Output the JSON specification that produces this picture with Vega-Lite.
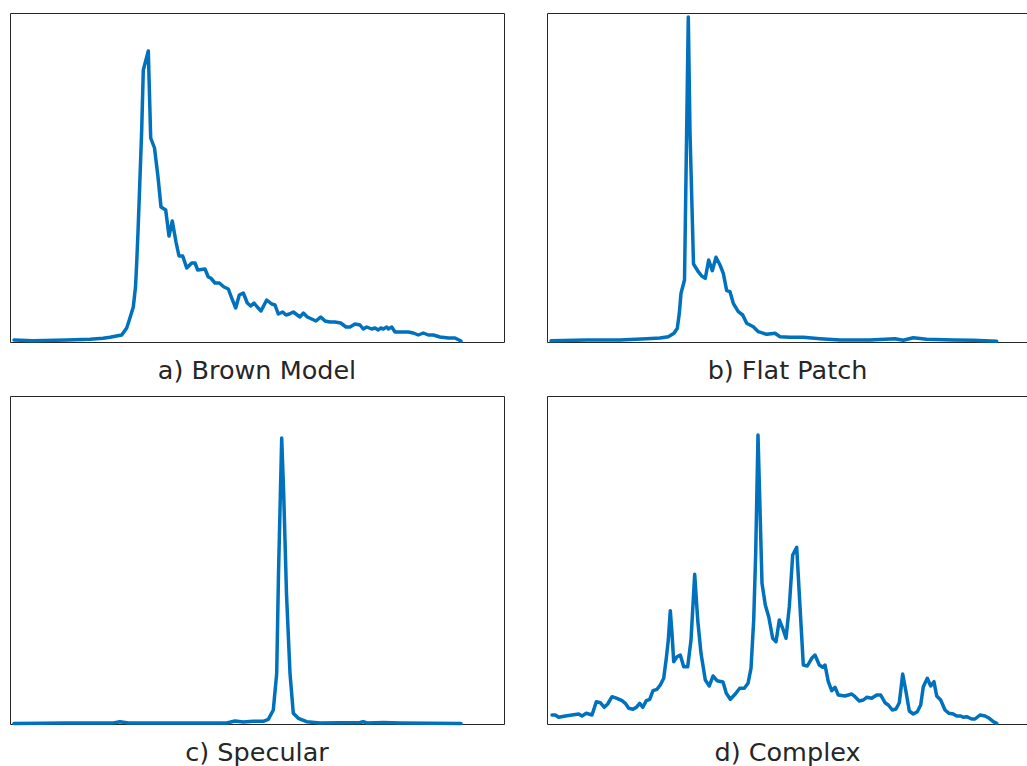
{
  "$schema": "https://vega.github.io/schema/vega-lite/v6.json",
  "background": "white",
  "padding": {"left": 9, "top": 12, "right": 0, "bottom": 0},
  "columns": 2,
  "spacing": {"row": 54, "column": 43},
  "bounds": "flush",
  "datasets": {
    "brown": [
      {"x":4,"y":2},{"x":23,"y":1.3},{"x":57,"y":2},{"x":80,"y":2.7},{"x":93,"y":3.7},{"x":100,"y":4.7},{"x":111.7,"y":7},{"x":116.7,"y":14},{"x":119.3,"y":22},{"x":123.3,"y":35},{"x":125.5,"y":55},{"x":126.7,"y":79},{"x":128,"y":110},{"x":129.3,"y":145},{"x":131.7,"y":212},{"x":133.3,"y":272},{"x":138.3,"y":291},{"x":140.7,"y":204},{"x":144.5,"y":194},{"x":148,"y":165},{"x":151,"y":135},{"x":155.7,"y":132},{"x":159,"y":106},{"x":162.3,"y":121},{"x":166,"y":100},{"x":169,"y":86},{"x":172.7,"y":86},{"x":176.7,"y":74},{"x":181.7,"y":79},{"x":185,"y":79},{"x":187.7,"y":72},{"x":195,"y":73},{"x":198.3,"y":65},{"x":200.7,"y":64},{"x":205,"y":59},{"x":209.3,"y":59},{"x":214,"y":55},{"x":218.3,"y":53},{"x":221.7,"y":44},{"x":225.7,"y":34},{"x":229.3,"y":47},{"x":233.3,"y":49},{"x":237.3,"y":39},{"x":240.7,"y":36},{"x":244,"y":39},{"x":247.3,"y":35},{"x":251,"y":31},{"x":256.7,"y":42},{"x":261.7,"y":38},{"x":265,"y":37},{"x":268.3,"y":28},{"x":272.7,"y":30},{"x":276,"y":27},{"x":279.3,"y":28},{"x":283.3,"y":30},{"x":287.3,"y":27},{"x":290,"y":25},{"x":293.3,"y":29},{"x":297.3,"y":25},{"x":301.7,"y":23},{"x":306,"y":21},{"x":310.7,"y":25},{"x":315,"y":21},{"x":320,"y":20},{"x":325,"y":20},{"x":330.7,"y":19},{"x":336,"y":15},{"x":340,"y":15},{"x":345,"y":18},{"x":350,"y":17},{"x":353.3,"y":13},{"x":356.7,"y":15},{"x":361.7,"y":13},{"x":365,"y":14},{"x":368.3,"y":12},{"x":370.7,"y":14},{"x":373.3,"y":13},{"x":376.7,"y":15},{"x":378.3,"y":13},{"x":381.7,"y":15},{"x":385,"y":10},{"x":390,"y":10},{"x":398.3,"y":10},{"x":403.3,"y":9},{"x":408.3,"y":7},{"x":413.3,"y":9},{"x":418.3,"y":7},{"x":423.3,"y":7},{"x":430,"y":5},{"x":438.3,"y":4},{"x":445,"y":4},{"x":451,"y":1}
    ],
    "flat": [
      {"x":4,"y":1.3},{"x":39.7,"y":2},{"x":73,"y":2},{"x":99.7,"y":3.3},{"x":113,"y":4},{"x":121.3,"y":5.3},{"x":127,"y":8.7},{"x":130.3,"y":13.7},{"x":132.3,"y":28.7},{"x":134,"y":48.7},{"x":137.5,"y":62},{"x":141.3,"y":325},{"x":143,"y":210},{"x":146.5,"y":78},{"x":151.3,"y":70.3},{"x":154.7,"y":66},{"x":158.3,"y":63.7},{"x":161.7,"y":82},{"x":165.3,"y":71.3},{"x":169,"y":84.7},{"x":173,"y":77},{"x":176.3,"y":68.7},{"x":179.7,"y":51.3},{"x":183,"y":50.3},{"x":186.3,"y":38.7},{"x":191.3,"y":30.3},{"x":195.7,"y":27},{"x":199.7,"y":18.7},{"x":206.3,"y":15.3},{"x":211.3,"y":10.3},{"x":219.7,"y":7.7},{"x":228,"y":8.7},{"x":233,"y":5.3},{"x":243,"y":4.7},{"x":256.3,"y":4.7},{"x":273,"y":3.3},{"x":293,"y":2},{"x":323,"y":2},{"x":348,"y":3.3},{"x":356.3,"y":1.7},{"x":366.3,"y":4.3},{"x":379.7,"y":2.7},{"x":406.3,"y":2},{"x":426.3,"y":1.7},{"x":449.7,"y":0.7}
    ],
    "specular": [
      {"x":4,"y":0.5},{"x":56.7,"y":1},{"x":103.3,"y":1},{"x":110,"y":2.3},{"x":118.3,"y":1},{"x":156.7,"y":1},{"x":216.7,"y":1},{"x":225,"y":3},{"x":233.3,"y":2},{"x":243.3,"y":2.7},{"x":253.3,"y":2.7},{"x":258.3,"y":4.7},{"x":263.3,"y":14},{"x":266.7,"y":50.7},{"x":268.5,"y":150},{"x":271.7,"y":286},{"x":273.7,"y":230},{"x":276.5,"y":130},{"x":280,"y":50.7},{"x":283.3,"y":10.7},{"x":288.3,"y":5.7},{"x":296.7,"y":2.3},{"x":310,"y":1},{"x":350,"y":1.5},{"x":353.3,"y":2.3},{"x":356.7,"y":1},{"x":373.3,"y":1.5},{"x":390,"y":1},{"x":451,"y":0.5}
    ],
    "complex": [
      {"x":5,"y":9},{"x":8.3,"y":9},{"x":11.7,"y":6.7},{"x":18.3,"y":8},{"x":25,"y":9},{"x":31.7,"y":10},{"x":35,"y":8},{"x":39.3,"y":10.7},{"x":45,"y":9},{"x":49.3,"y":22.3},{"x":53.3,"y":21.3},{"x":57.3,"y":16.7},{"x":60.7,"y":20},{"x":65,"y":27.3},{"x":70,"y":25.7},{"x":75,"y":23.3},{"x":78.3,"y":20.7},{"x":81.7,"y":15.7},{"x":86,"y":14.7},{"x":89.3,"y":16.7},{"x":92.7,"y":20.7},{"x":95.7,"y":16.7},{"x":99.3,"y":23.3},{"x":102.7,"y":24.7},{"x":106,"y":33.3},{"x":110,"y":34.7},{"x":113.3,"y":39},{"x":116.7,"y":45.7},{"x":119.3,"y":65.7},{"x":121.3,"y":84},{"x":123.3,"y":113.3},{"x":125,"y":90.7},{"x":126.7,"y":62.3},{"x":130,"y":67.3},{"x":133.3,"y":69},{"x":136.7,"y":57.3},{"x":140.7,"y":57.3},{"x":144,"y":84},{"x":147.7,"y":149.7},{"x":150.7,"y":104},{"x":154,"y":70.7},{"x":158.3,"y":44},{"x":162.3,"y":38},{"x":166,"y":48},{"x":170,"y":43.3},{"x":176,"y":42},{"x":179.3,"y":30.7},{"x":183.3,"y":24.7},{"x":188.3,"y":30},{"x":192.7,"y":35.7},{"x":197.3,"y":35.7},{"x":201,"y":40.7},{"x":204,"y":55.7},{"x":206.7,"y":104},{"x":208.7,"y":170.7},{"x":211,"y":289},{"x":213.3,"y":204},{"x":215,"y":140.7},{"x":218.3,"y":119},{"x":221.7,"y":107.3},{"x":225.7,"y":85.7},{"x":229,"y":82.3},{"x":232.3,"y":104},{"x":235.7,"y":95.7},{"x":239,"y":85.7},{"x":242.3,"y":117.3},{"x":245.7,"y":169},{"x":249.7,"y":176.7},{"x":253,"y":117.3},{"x":256.3,"y":59},{"x":260.3,"y":58},{"x":264.7,"y":65.7},{"x":268,"y":69},{"x":272.3,"y":59},{"x":275.7,"y":56.7},{"x":278,"y":59},{"x":281.3,"y":42.3},{"x":284.7,"y":33.3},{"x":288,"y":36.7},{"x":291.3,"y":29},{"x":298,"y":28},{"x":304.7,"y":30},{"x":308,"y":27.3},{"x":312.3,"y":23},{"x":316.3,"y":24},{"x":319.7,"y":26.7},{"x":324.7,"y":25.7},{"x":329.7,"y":29},{"x":333.7,"y":29},{"x":338,"y":21.3},{"x":341.3,"y":19},{"x":345.3,"y":14},{"x":349,"y":15},{"x":352.3,"y":21.3},{"x":355.7,"y":50},{"x":359,"y":32.3},{"x":362.3,"y":13},{"x":366.3,"y":10},{"x":370.3,"y":12.3},{"x":373.7,"y":19},{"x":376.3,"y":37.3},{"x":380.3,"y":45.7},{"x":383.7,"y":38},{"x":387,"y":42.3},{"x":389.7,"y":28},{"x":393.7,"y":24},{"x":398,"y":14},{"x":402,"y":10.7},{"x":406.3,"y":10},{"x":409.7,"y":8},{"x":413.7,"y":8},{"x":416.3,"y":6.7},{"x":419.7,"y":7.3},{"x":424.7,"y":5},{"x":428,"y":5},{"x":433,"y":9},{"x":438,"y":8},{"x":442.3,"y":5.7},{"x":446.3,"y":2.3},{"x":449.7,"y":0.7}
    ]
  },
  "concat": [
    {
      "width": 494, "height": 329,
      "title": "a) Brown Model",
      "data": {"name": "brown"},
      "mark": {"type": "line", "color": "#0072BD", "strokeWidth": 3.5, "strokeJoin": "round", "strokeCap": "round"},
      "encoding": {
        "x": {"field": "x", "type": "quantitative", "scale": {"domain": [0, 494], "nice": false, "zero": false}, "axis": null},
        "y": {"field": "y", "type": "quantitative", "scale": {"domain": [0, 329], "nice": false}, "axis": null}
      }
    },
    {
      "width": 481, "height": 329,
      "title": "b) Flat Patch",
      "data": {"name": "flat"},
      "mark": {"type": "line", "color": "#0072BD", "strokeWidth": 3.5, "strokeJoin": "round", "strokeCap": "round"},
      "encoding": {
        "x": {"field": "x", "type": "quantitative", "scale": {"domain": [0, 481], "nice": false, "zero": false}, "axis": null},
        "y": {"field": "y", "type": "quantitative", "scale": {"domain": [0, 329], "nice": false}, "axis": null}
      }
    },
    {
      "width": 494, "height": 328,
      "title": "c) Specular",
      "data": {"name": "specular"},
      "mark": {"type": "line", "color": "#0072BD", "strokeWidth": 3.5, "strokeJoin": "round", "strokeCap": "round"},
      "encoding": {
        "x": {"field": "x", "type": "quantitative", "scale": {"domain": [0, 494], "nice": false, "zero": false}, "axis": null},
        "y": {"field": "y", "type": "quantitative", "scale": {"domain": [0, 328], "nice": false}, "axis": null}
      }
    },
    {
      "width": 481, "height": 328,
      "title": "d) Complex",
      "data": {"name": "complex"},
      "mark": {"type": "line", "color": "#0072BD", "strokeWidth": 3.5, "strokeJoin": "round", "strokeCap": "round"},
      "encoding": {
        "x": {"field": "x", "type": "quantitative", "scale": {"domain": [0, 481], "nice": false, "zero": false}, "axis": null},
        "y": {"field": "y", "type": "quantitative", "scale": {"domain": [0, 328], "nice": false}, "axis": null}
      }
    }
  ],
  "config": {
    "view": {"stroke": "#262626", "strokeWidth": 1},
    "title": {"orient": "bottom", "fontSize": 25.5, "font": "DejaVu Sans", "fontWeight": "normal", "color": "#262626", "baseline": "alphabetic", "offset": 16, "anchor": "middle"}
  }
}
